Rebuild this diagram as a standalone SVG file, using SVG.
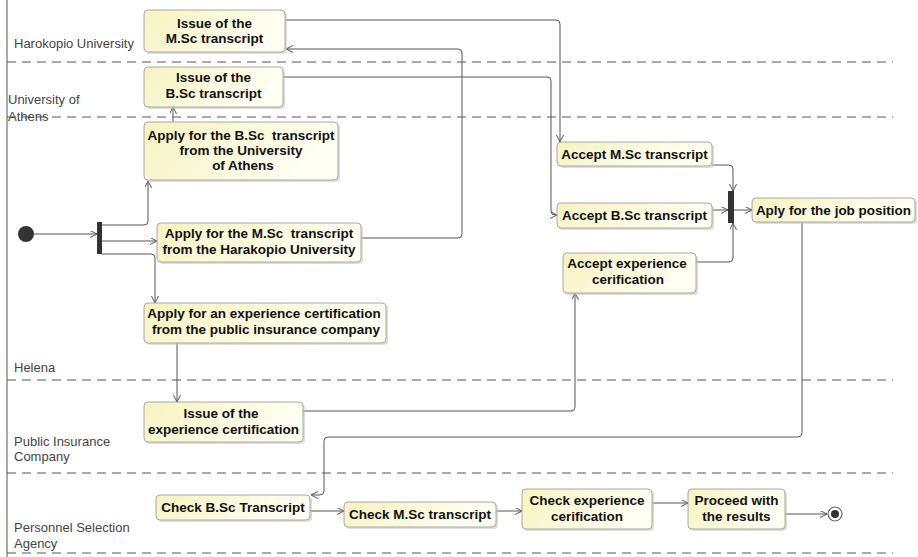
<svg xmlns="http://www.w3.org/2000/svg" width="918" height="557" viewBox="0 0 918 557">
<style>
.lane{stroke:#555;stroke-width:1;stroke-dasharray:9 6;fill:none}
.lbl{font-family:"Liberation Sans",Arial,sans-serif;font-size:13px;fill:#444}
.box{fill:url(#g);stroke:#a8a8a0;stroke-width:1}
.sh{fill:#c8c8c0;opacity:0.6}
.t{font-family:"Liberation Sans",Arial,sans-serif;font-size:13.5px;font-weight:bold;fill:#111;text-anchor:middle;white-space:pre}
.c{fill:none;stroke:#555;stroke-width:1;marker-end:url(#a)}
</style>
<defs>
<linearGradient id="g" x1="0" y1="0" x2="1" y2="0.3">
<stop offset="0" stop-color="#f6f3c0"/>
<stop offset="1" stop-color="#fffff4"/>
</linearGradient>
<marker id="a" markerWidth="8" markerHeight="8" refX="7" refY="3.5" orient="auto" markerUnits="userSpaceOnUse">
<path d="M0,0 L7,3.5 L0,7" fill="none" stroke="#555" stroke-width="1"/>
</marker>
</defs>
<rect width="918" height="557" fill="#fff"/>
<g id="lanes">
<line x1="7" y1="0" x2="7" y2="557" stroke="#555" stroke-width="1"/>
<line class="lane" x1="7" y1="62" x2="893" y2="62"/>
<line class="lane" x1="7" y1="117" x2="893" y2="117"/>
<line class="lane" x1="7" y1="380" x2="893" y2="380"/>
<line class="lane" x1="7" y1="473" x2="893" y2="473"/>
<line class="lane" x1="7" y1="553" x2="893" y2="553"/>
<text class="lbl" x="14" y="48">Harokopio University</text>
<text class="lbl" x="8" y="104">University of</text>
<text class="lbl" x="8" y="121">Athens</text>
<text class="lbl" x="14" y="372">Helena</text>
<text class="lbl" x="14" y="446">Public Insurance</text>
<text class="lbl" x="14" y="461">Company</text>
<text class="lbl" x="14" y="532">Personnel Selection</text>
<text class="lbl" x="14" y="548">Agency</text>
</g>
<g id="connectors">
<line class="c" x1="34" y1="234" x2="97" y2="234"/>
<path class="c" d="M102,225 H144 Q148,225 148,221 V181"/>
<line class="c" x1="102" y1="241" x2="157" y2="241"/>
<path class="c" d="M102,254 H151 Q155,254 155,258 V303"/>
<line class="c" x1="173" y1="122" x2="173" y2="107"/>
<path class="c" d="M361,238 H458 Q462,238 462,234 V53 Q462,49 458,49 H286"/>
<path class="c" d="M285,20 H556 Q560,20 560,24 V142"/>
<path class="c" d="M283,77 H547 Q551,77 551,81 V211 Q551,215 555,215 H557"/>
<path class="c" d="M712,165 H729 Q733,165 733,169 V191"/>
<line class="c" x1="712" y1="210" x2="728" y2="210"/>
<path class="c" d="M696,262 H729 Q733,262 733,258 V223"/>
<line class="c" x1="734" y1="210" x2="752" y2="210"/>
<line class="c" x1="177" y1="343" x2="177" y2="402"/>
<path class="c" d="M303,411 H571 Q575,411 575,407 V293"/>
<path class="c" d="M802,222 V433 Q802,437 798,437 H328 Q324,437 324,441 V491 Q324,495 320,495 H311"/>
<line class="c" x1="310" y1="511" x2="344" y2="511"/>
<line class="c" x1="496" y1="511" x2="522" y2="511"/>
<line class="c" x1="652" y1="503" x2="688" y2="503"/>
<line class="c" x1="785" y1="514" x2="827" y2="514"/>
</g>
<g id="initial"><circle cx="26" cy="234" r="8" fill="#333"/></g>
<g id="fork"><rect x="97" y="222" width="5" height="32" fill="#333"/></g>
<g id="join"><rect x="728" y="191" width="6" height="32" fill="#333"/></g>
<g id="final"><circle cx="835" cy="514" r="7" fill="#fff" stroke="#666" stroke-width="1.2"/><circle cx="835" cy="514" r="4" fill="#333"/></g>
<g id="n1"><rect class="sh" x="146" y="12" width="141" height="42" rx="4"/><rect class="box" x="144" y="10" width="141" height="42" rx="4"/><text class="t" x="214.5" y="27.5">Issue of the</text><text class="t" x="214.5" y="42.5">M.Sc transcript</text></g>
<g id="n2"><rect class="sh" x="146" y="69" width="139" height="40" rx="4"/><rect class="box" x="144" y="67" width="139" height="40" rx="4"/><text class="t" x="213.5" y="82">Issue of the</text><text class="t" x="213.5" y="98">B.Sc transcript</text></g>
<g id="n3"><rect class="sh" x="146" y="124" width="194" height="58" rx="4"/><rect class="box" x="144" y="122" width="194" height="58" rx="4"/><text class="t" x="241" y="140" xml:space="preserve">Apply for the B.Sc  transcript</text><text class="t" x="241" y="155">from the University</text><text class="t" x="243" y="170">of Athens</text></g>
<g id="n4"><rect class="sh" x="159" y="225" width="204" height="39" rx="4"/><rect class="box" x="157" y="223" width="204" height="39" rx="4"/><text class="t" x="259" y="238" xml:space="preserve">Apply for the M.Sc  transcript</text><text class="t" x="259" y="254">from the Harakopio University</text></g>
<g id="n5"><rect class="sh" x="146" y="305" width="242" height="40" rx="4"/><rect class="box" x="144" y="303" width="242" height="40" rx="4"/><text class="t" x="264" y="318">Apply for an experience certification</text><text class="t" x="266" y="334">from the public insurance company</text></g>
<g id="n6"><rect class="sh" x="146" y="404" width="159" height="40" rx="4"/><rect class="box" x="144" y="402" width="159" height="40" rx="4"/><text class="t" x="221" y="418">Issue of the</text><text class="t" x="223.5" y="434">experience certification</text></g>
<g id="n7"><rect class="sh" x="158" y="497" width="154" height="25" rx="4"/><rect class="box" x="156" y="495" width="154" height="25" rx="4"/><text class="t" x="233" y="512">Check B.Sc Transcript</text></g>
<g id="n8"><rect class="sh" x="346" y="504" width="152" height="25" rx="4"/><rect class="box" x="344" y="502" width="152" height="25" rx="4"/><text class="t" x="420" y="519">Check M.Sc transcript</text></g>
<g id="n9"><rect class="sh" x="524" y="491" width="130" height="40" rx="4"/><rect class="box" x="522" y="489" width="130" height="40" rx="4"/><text class="t" x="587" y="505">Check experience</text><text class="t" x="587" y="521">cerification</text></g>
<g id="n10"><rect class="sh" x="690" y="491" width="97" height="40" rx="4"/><rect class="box" x="688" y="489" width="97" height="40" rx="4"/><text class="t" x="736.5" y="505">Proceed with</text><text class="t" x="736.5" y="521">the results</text></g>
<g id="n11"><rect class="sh" x="559" y="144" width="155" height="24" rx="4"/><rect class="box" x="557" y="142" width="155" height="24" rx="4"/><text class="t" x="634.5" y="159">Accept M.Sc transcript</text></g>
<g id="n12"><rect class="sh" x="559" y="205" width="155" height="25" rx="4"/><rect class="box" x="557" y="203" width="155" height="25" rx="4"/><text class="t" x="634.5" y="220">Accept B.Sc transcript</text></g>
<g id="n13"><rect class="sh" x="565" y="255" width="133" height="40" rx="4"/><rect class="box" x="563" y="253" width="133" height="40" rx="4"/><text class="t" x="627" y="268">Accept experience</text><text class="t" x="628" y="284">cerification</text></g>
<g id="n14"><rect class="sh" x="754" y="200" width="163" height="24" rx="4"/><rect class="box" x="752" y="198" width="163" height="24" rx="4"/><text class="t" x="833.5" y="215">Aply for the job position</text></g>
</svg>
